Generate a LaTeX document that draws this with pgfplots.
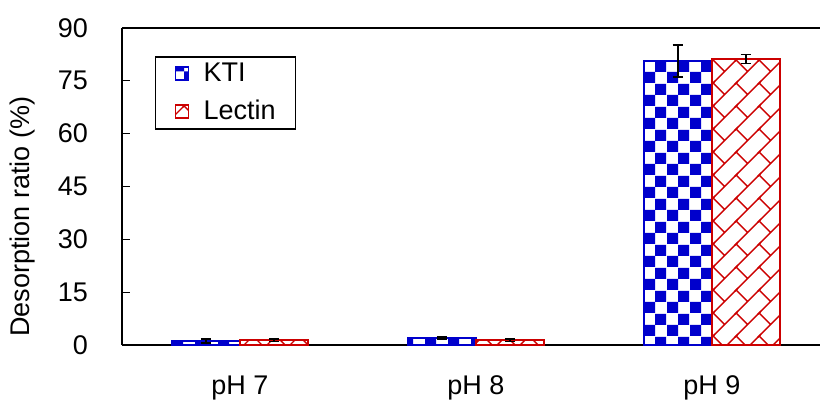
\documentclass[border=0pt]{standalone}
\usepackage{fontspec}
\setmainfont{Liberation Sans}
\usepackage{pgfplots}
\pgfplotsset{compat=1.18}
\usetikzlibrary{patterns}

\definecolor{ktiblue}{RGB}{0,0,204}
\definecolor{lecred}{RGB}{204,0,0}

% big checkerboard, 5.75pt squares
\pgfdeclarepatternformonly{bigcheck}{\pgfpointorigin}{\pgfpoint{11.5pt}{11.5pt}}{\pgfpoint{11.5pt}{11.5pt}}{%
  \pgfpathrectangle{\pgfpointorigin}{\pgfpoint{5.75pt}{5.75pt}}%
  \pgfpathrectangle{\pgfpoint{5.75pt}{5.75pt}}{\pgfpoint{5.75pt}{5.75pt}}%
  \pgfusepath{fill}}
% diagonal brick
\pgfdeclarepatternformonly{diagbrick}{\pgfpoint{-1pt}{-1pt}}{\pgfpoint{12.5pt}{12.5pt}}{\pgfpoint{11.5pt}{11.5pt}}{%
  \pgfsetlinewidth{0.7pt}%
  \pgfpathmoveto{\pgfpoint{-1pt}{-1pt}}\pgfpathlineto{\pgfpoint{12.5pt}{12.5pt}}%
  \pgfpathmoveto{\pgfpoint{5.75pt}{5.75pt}}\pgfpathlineto{\pgfpoint{0pt}{11.5pt}}%
  \pgfusepath{stroke}}

\begin{document}
\begin{tikzpicture}[font=\fontsize{13.5}{16}\selectfont]
\begin{axis}[
    name=ax,
    scale only axis,
    width=349pt, height=158.5pt,
    ybar=0pt, bar width=34pt,
    xmin=0.5, xmax=3.458,
    ymin=0, ymax=90,
    ytick={0,15,...,90},
    xtick={1,2,3},
    xticklabels={pH 7, pH 8, pH 9},
    axis y line*=left,
    axis line style={line width=1pt},
    tick align=inside,
    major tick length=4pt,
    ytick style={line width=0.6pt, black},
    xtick style={draw=none},
    /pgf/number format/assume math mode=true,
    tick label style={font=\fontsize{13.5}{16}\selectfont},
    yticklabel style={xshift=-13.5pt},
    xticklabel style={yshift=-12pt},
    every axis y label/.style={at={(axis description cs:-0.143,0.404)}, rotate=90, anchor=center},
    ylabel={Desorption ratio (\%)},
    legend style={at={(rel axis cs:0.047,0.912)}, anchor=north west,
        draw=black, line width=0.8pt, inner xsep=8pt, inner ysep=1pt,
        row sep=4pt, font=\fontsize{13.5}{16}\selectfont,
        cells={anchor=west}},
    legend image code/.code={
        \draw[#1, line width=0.8pt] (2pt,-3.25pt) rectangle (8.5pt,3.25pt);
        \path[draw=none, fill=none, pattern=none] (0pt,0pt) -- (14pt,0pt);},
    error bars/error bar style={line width=0.9pt, black},
    error bars/error mark options={rotate=90, mark size=2.6pt, line width=0.9pt, black},
]
\addplot[draw=ktiblue, line width=0.8pt, pattern=bigcheck, pattern color=ktiblue,
    error bars/.cd, y dir=both, y explicit]
coordinates {(1,1.1) +- (0,0.5) (2,2.0) +- (0,0.3) (3,80.6) +- (0,4.5)};
\addplot[draw=lecred, line width=0.8pt, pattern=diagbrick, pattern color=lecred,
    error bars/.cd, y dir=both, y explicit]
coordinates {(1,1.4) +- (0,0.4) (2,1.4) +- (0,0.4) (3,81.2) +- (0,1.3)};
\legend{KTI, Lectin}
\end{axis}
\pgfresetboundingbox
\useasboundingbox ([xshift=-61pt,yshift=-30pt]ax.south west) rectangle ([yshift=14pt]ax.north east);
\end{tikzpicture}
\end{document}
